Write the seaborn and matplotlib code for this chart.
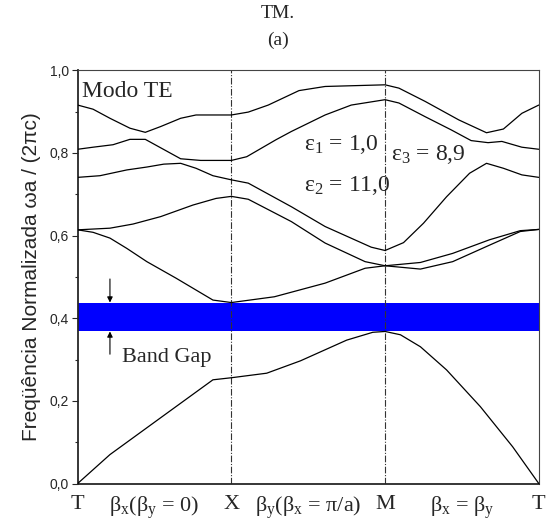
import matplotlib
matplotlib.use("Agg")
import matplotlib.pyplot as plt
import numpy as np
import pandas as pd
import seaborn as sns
from matplotlib.ticker import MultipleLocator, FuncFormatter

# Path through the Brillouin zone: T = 0, X = 1, M = 2, T = 3
band1_k = [0.0, 0.21, 0.58, 0.88, 1.0, 1.23, 1.45, 1.75, 1.92, 2.0, 2.10, 2.23, 2.40, 2.62, 2.83, 3.0]
band1_w = [0.0, 0.070, 0.170, 0.251, 0.256, 0.267, 0.297, 0.347, 0.366, 0.368, 0.360, 0.331, 0.275, 0.186, 0.089, 0.0]

band2_k = [0.0, 0.10, 0.21, 0.32, 0.45, 0.64, 0.88, 1.0, 1.10, 1.28, 1.61, 1.87, 2.0, 2.23, 2.44, 2.68, 2.88, 3.0]
band2_w = [0.614, 0.608, 0.594, 0.569, 0.537, 0.497, 0.444, 0.438, 0.443, 0.452, 0.485, 0.521, 0.527, 0.519, 0.537, 0.577, 0.610, 0.615]

band3_k = [0.0, 0.21, 0.36, 0.54, 0.75, 0.90, 1.0, 1.11, 1.39, 1.61, 1.87, 2.0, 2.23, 2.44, 2.68, 2.88, 3.0]
band3_w = [0.614, 0.618, 0.628, 0.646, 0.674, 0.690, 0.695, 0.688, 0.634, 0.582, 0.537, 0.527, 0.535, 0.557, 0.590, 0.612, 0.615]

band4_k = [0.0, 0.145, 0.32, 0.45, 0.56, 0.67, 0.77, 0.88, 1.0, 1.11, 1.39, 1.61, 1.91, 2.0, 2.12, 2.25, 2.40, 2.55, 2.66, 2.77, 2.89, 3.0]
band4_w = [0.741, 0.745, 0.759, 0.766, 0.773, 0.775, 0.763, 0.745, 0.735, 0.727, 0.670, 0.622, 0.572, 0.564, 0.583, 0.630, 0.694, 0.751, 0.775, 0.763, 0.747, 0.741]

band5_k = [0.0, 0.10, 0.23, 0.34, 0.44, 0.67, 0.80, 1.0, 1.10, 1.29, 1.39, 1.61, 1.78, 2.0, 2.09, 2.26, 2.43, 2.56, 2.67, 2.76, 2.89, 3.0]
band5_w = [0.809, 0.814, 0.820, 0.833, 0.833, 0.786, 0.782, 0.782, 0.791, 0.832, 0.852, 0.892, 0.916, 0.929, 0.921, 0.888, 0.856, 0.830, 0.825, 0.828, 0.814, 0.809]

band6_k = [0.0, 0.10, 0.21, 0.34, 0.44, 0.54, 0.67, 0.77, 1.0, 1.11, 1.24, 1.44, 1.61, 2.0, 2.09, 2.26, 2.48, 2.66, 2.77, 2.89, 3.0]
band6_w = [0.916, 0.906, 0.884, 0.860, 0.850, 0.864, 0.884, 0.892, 0.892, 0.899, 0.916, 0.951, 0.961, 0.965, 0.957, 0.925, 0.880, 0.849, 0.858, 0.896, 0.916]

gap_low = 0.368
gap_high = 0.438

sym_points = [1.0, 2.0]
tick_pos = [0.0, 0.5, 1.0, 1.5, 2.0, 2.5, 3.0]
tick_labels = ["T",
               r"β$_{\mathrm{x}}$(β$_{\mathrm{y}}$ = 0)",
               "X",
               r"β$_{\mathrm{y}}$(β$_{\mathrm{x}}$ = π/a)",
               "M",
               r"β$_{\mathrm{x}}$ = β$_{\mathrm{y}}$",
               "T"]

bands = [(band1_k, band1_w), (band2_k, band2_w), (band3_k, band3_w),
         (band4_k, band4_w), (band5_k, band5_w), (band6_k, band6_w)]
frames = []
for i, (k, w) in enumerate(bands):
    frames.append(pd.DataFrame({"k": k, "w": w, "band": i + 1}))
df = pd.concat(frames, ignore_index=True)

SERIF = ["Liberation Serif", "DejaVu Serif"]
SANS = ["Liberation Sans", "DejaVu Sans"]

sns.set_style("ticks")
plt.rcParams["font.family"] = SERIF
plt.rcParams["mathtext.fontset"] = "custom"
plt.rcParams["mathtext.rm"] = "Liberation Serif"
plt.rcParams["mathtext.it"] = "Liberation Serif:italic"

fig = plt.figure(figsize=(5.56, 5.29), dpi=100)
ax = fig.add_axes([0.1397, 0.086, 0.8293, 0.781])

ax.axhspan(gap_low, gap_high, color="#0000FF", lw=0, zorder=1)
for xv in sym_points:
    ax.axvline(xv, color="#333333", lw=0.8, ls=(0, (6, 1.5, 1, 1.5)), zorder=2)

sns.lineplot(data=df, x="k", y="w", units="band", estimator=None, sort=False,
             color="black", lw=0.9, ax=ax, legend=False, zorder=3)

ax.set_xlim(0, 3)
ax.set_ylim(0, 1.0)
ax.set_xlabel("")
ax.set_ylabel("Freqüência Normalizada ωa / (2πc)", family=SANS,
              fontsize=15, labelpad=6)

ax.yaxis.set_major_locator(MultipleLocator(0.2))
ax.yaxis.set_minor_locator(MultipleLocator(0.1))
ax.yaxis.set_major_formatter(FuncFormatter(lambda v, p: f"{v:.1f}".replace(".", ",")))
ax.tick_params(axis="y", which="major", length=4.5, width=0.8, labelsize=10, pad=2)
ax.tick_params(axis="y", which="minor", length=2.2, width=0.8)
for lab in ax.get_yticklabels():
    lab.set_family(SANS)

ax.set_xticks(tick_pos)
ax.set_xticklabels(tick_labels, fontsize=16, family=SERIF)
ax.tick_params(axis="x", length=0, pad=8)

for s in ["left", "bottom"]:
    ax.spines[s].set_linewidth(1.3)
for s in ["top", "right"]:
    ax.spines[s].set_linewidth(0.8)
    ax.spines[s].set_color("#444444")

ax.text(0.03, 0.935, "Modo TE", fontsize=17, family=SERIF, ha="left", va="baseline")
ax.text(1.47, 0.807, r"ε$_{\mathrm{1}}$ = 1,0", fontsize=17, family=SERIF, ha="left", va="baseline")
ax.text(1.47, 0.707, r"ε$_{\mathrm{2}}$ = 11,0", fontsize=17, family=SERIF, ha="left", va="baseline")
ax.text(2.04, 0.783, r"ε$_{\mathrm{3}}$ = 8,9", fontsize=17, family=SERIF, ha="left", va="baseline")
ax.text(0.286, 0.295, "Band Gap", fontsize=16, family=SERIF, ha="left", va="baseline")

ax.annotate("", xy=(0.21, gap_high), xytext=(0.21, 0.495),
            arrowprops=dict(arrowstyle="-|>", color="black", lw=0.8,
                            mutation_scale=8, shrinkA=0, shrinkB=0))
ax.annotate("", xy=(0.21, gap_low), xytext=(0.21, 0.313),
            arrowprops=dict(arrowstyle="-|>", color="black", lw=0.8,
                            mutation_scale=8, shrinkA=0, shrinkB=0))

fig.text(0.5, 1 - 14 / 529, "TM.", fontsize=14, family=SERIF, ha="center", va="center")
fig.text(0.5, 1 - 40 / 529, "(a)", fontsize=14, family=SERIF, ha="center", va="center")

fig.savefig("out.png", dpi=100)
